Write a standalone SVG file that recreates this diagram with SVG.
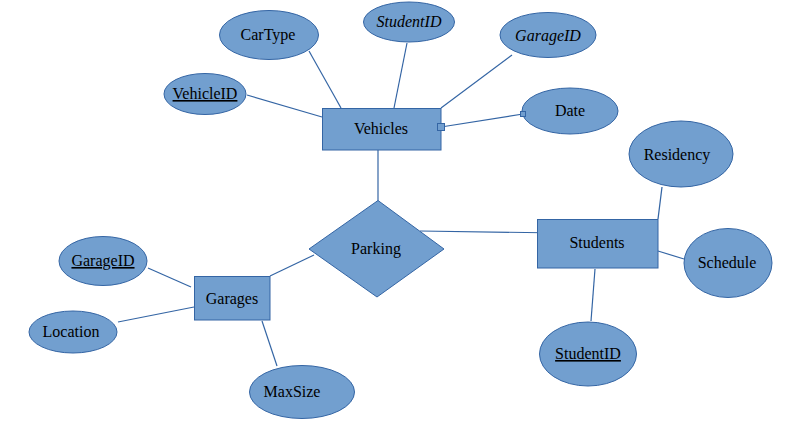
<svg xmlns="http://www.w3.org/2000/svg" width="791" height="444" viewBox="0 0 791 444">
<style>
.s{fill:#729fcf;stroke:#3465a4;stroke-width:1}
.l{stroke:#3465a4;stroke-width:1.2;fill:none}
text{font-family:"Liberation Serif","Times New Roman",serif;font-size:16px;fill:#000;text-anchor:middle}
.i{font-style:italic}
.u{text-decoration:underline}
</style>
<rect width="791" height="444" fill="#fff"/>
<g id="connectors">
<line class="l" x1="247" y1="95" x2="322" y2="117"/>
<line class="l" x1="309" y1="51" x2="341" y2="108"/>
<line class="l" x1="407" y1="43" x2="394" y2="108"/>
<line class="l" x1="512" y1="55" x2="441" y2="108"/>
<line class="l" x1="441" y1="127" x2="523" y2="114"/>
<line class="l" x1="378" y1="150" x2="378" y2="201"/>
<line class="l" x1="420" y1="231" x2="561" y2="233"/>
<line class="l" x1="662" y1="187" x2="658" y2="219"/>
<line class="l" x1="658" y1="251" x2="684" y2="259"/>
<line class="l" x1="595" y1="269" x2="591" y2="321"/>
<line class="l" x1="148" y1="268" x2="191" y2="287"/>
<line class="l" x1="118" y1="322" x2="194" y2="307"/>
<line class="l" x1="262" y1="321" x2="277" y2="366"/>
<line class="l" x1="270" y1="276" x2="314" y2="255"/>
</g>
<g id="vehicles"><rect class="s" x="322.5" y="108.5" width="118.5" height="41.5"/><text x="381" y="134">Vehicles</text></g>
<g id="vehicleid"><ellipse class="s" cx="205" cy="94" rx="41" ry="20.5"/><text class="u" x="205" y="99">VehicleID</text></g>
<g id="cartype"><ellipse class="s" cx="269" cy="35" rx="49.5" ry="24.5"/><text x="268" y="40">CarType</text></g>
<g id="v-studentid"><ellipse class="s" cx="409" cy="22" rx="45.5" ry="20"/><text class="i" x="409" y="27">StudentID</text></g>
<g id="v-garageid"><ellipse class="s" cx="548" cy="35" rx="48" ry="22.5"/><text class="i" x="548" y="41">GarageID</text></g>
<g id="date"><ellipse class="s" cx="570" cy="111" rx="48" ry="23"/><text x="570" y="116">Date</text></g>
<rect class="s" x="437.5" y="123.5" width="7" height="7"/>
<rect class="s" x="520.5" y="111.5" width="5" height="5"/>
<g id="parking"><polygon class="s" points="378,200.5 444,249 377,297 309,249"/><text x="376" y="254">Parking</text></g>
<g id="students"><rect class="s" x="537.5" y="219.5" width="120.5" height="48.5"/><text x="597" y="248">Students</text></g>
<g id="residency"><ellipse class="s" cx="681" cy="154" rx="52" ry="33"/><text x="677" y="160">Residency</text></g>
<g id="schedule"><ellipse class="s" cx="728" cy="263" rx="44" ry="34.5"/><text x="727" y="268">Schedule</text></g>
<g id="s-studentid"><ellipse class="s" cx="588" cy="354" rx="48.5" ry="32"/><text class="u" x="588" y="359">StudentID</text></g>
<g id="garages"><rect class="s" x="194.5" y="276.5" width="75.5" height="43.5"/><text x="232" y="304">Garages</text></g>
<g id="g-garageid"><ellipse class="s" cx="103" cy="261" rx="44" ry="24.5"/><text class="u" x="103" y="266">GarageID</text></g>
<g id="location"><ellipse class="s" cx="73" cy="332" rx="44" ry="21"/><text x="71" y="337">Location</text></g>
<g id="maxsize"><ellipse class="s" cx="302" cy="392" rx="52.5" ry="26.5"/><text x="292" y="397">MaxSize</text></g>
</svg>
